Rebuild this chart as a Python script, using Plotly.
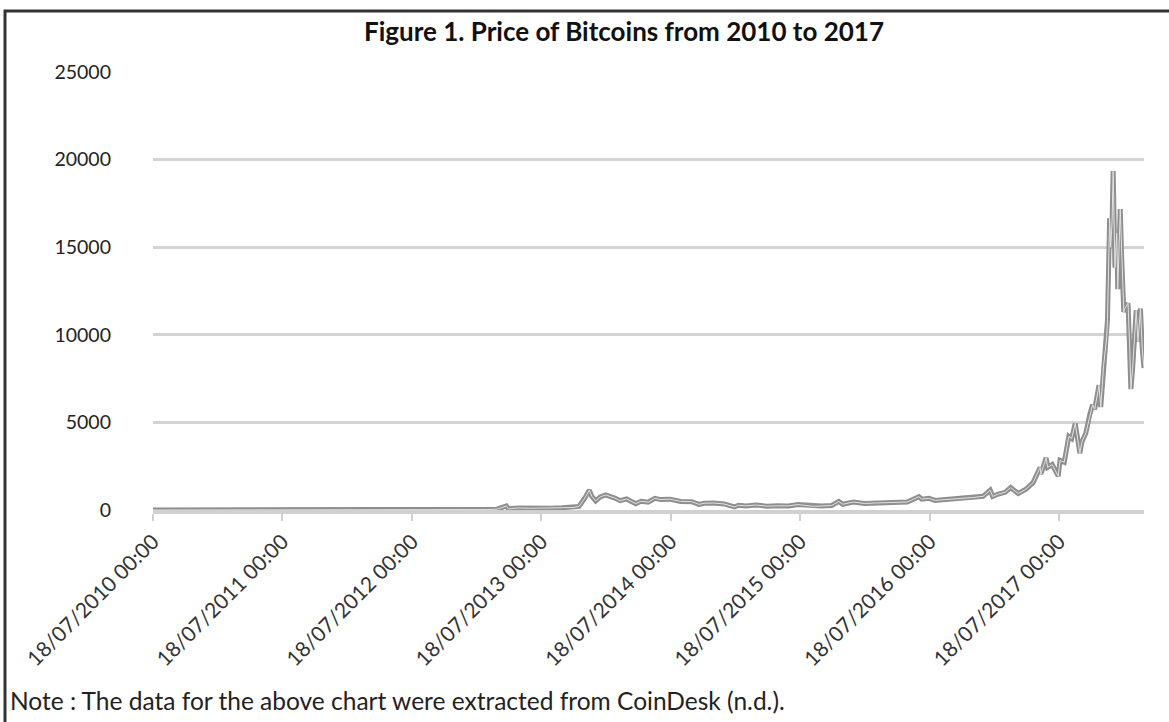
import plotly.graph_objects as go

dates = [
    "2010-07-18", "2010-08-15", "2010-09-15", "2010-10-15", "2010-11-15", "2010-12-15",
    "2011-01-15", "2011-02-15", "2011-03-15", "2011-04-15", "2011-05-15", "2011-06-08",
    "2011-06-20", "2011-07-15", "2011-08-15", "2011-09-15", "2011-10-15", "2011-11-15",
    "2011-12-15", "2012-01-15", "2012-02-15", "2012-03-15", "2012-04-15", "2012-05-15",
    "2012-06-15", "2012-07-15", "2012-08-15", "2012-09-15", "2012-10-15", "2012-11-15",
    "2012-12-15", "2013-01-15", "2013-02-15", "2013-03-15", "2013-04-10", "2013-04-16",
    "2013-05-15", "2013-06-15", "2013-07-15", "2013-08-15", "2013-09-15", "2013-10-15",
    "2013-11-01", "2013-11-18", "2013-11-30", "2013-12-07", "2013-12-18", "2013-12-31",
    "2014-01-15", "2014-02-10", "2014-02-25", "2014-03-15", "2014-04-10", "2014-04-25",
    "2014-05-15", "2014-06-03", "2014-06-20", "2014-07-15", "2014-08-15", "2014-09-15",
    "2014-10-05", "2014-10-20", "2014-11-15", "2014-12-15", "2015-01-14", "2015-01-25",
    "2015-02-15", "2015-03-15", "2015-04-15", "2015-05-15", "2015-06-15", "2015-07-12",
    "2015-08-15", "2015-08-24", "2015-09-15", "2015-10-15", "2015-11-04", "2015-11-15",
    "2015-12-15", "2016-01-15", "2016-02-15", "2016-03-15", "2016-04-15", "2016-05-15",
    "2016-06-17", "2016-06-25", "2016-07-15", "2016-08-02", "2016-08-15", "2016-09-15",
    "2016-10-15", "2016-11-15", "2016-12-15", "2017-01-04", "2017-01-11", "2017-01-25",
    "2017-02-15", "2017-03-03", "2017-03-24", "2017-04-15", "2017-05-05", "2017-05-25",
    "2017-05-27", "2017-06-11", "2017-06-15", "2017-06-28", "2017-07-15", "2017-07-20",
    "2017-08-01", "2017-08-14", "2017-08-22", "2017-09-01", "2017-09-14", "2017-09-20",
    "2017-10-01", "2017-10-12", "2017-10-20", "2017-10-26", "2017-11-07", "2017-11-12",
    "2017-11-20", "2017-11-26", "2017-11-29", "2017-12-01", "2017-12-07", "2017-12-10",
    "2017-12-14", "2017-12-17", "2017-12-22", "2017-12-27", "2017-12-30", "2018-01-06",
    "2018-01-10", "2018-01-16", "2018-01-19", "2018-01-28", "2018-02-02", "2018-02-05",
    "2018-02-10", "2018-02-20", "2018-02-25", "2018-03-04", "2018-03-09", "2018-03-14",
]

prices = [
    0.09, 0.07, 0.06, 0.10, 0.27, 0.24,
    0.39, 1.0, 0.86, 1.2, 7, 29.6,
    17, 14, 11, 5, 4, 2.5,
    3.2, 6.8, 4.4, 5.3, 4.9, 5.1,
    6.5, 7.6, 11.6, 11.8, 11.8, 11.2,
    13.4, 14.3, 27, 47, 230, 68,
    115, 100, 98, 98, 127, 142,
    205, 700, 1130, 780, 520, 750,
    860, 680, 530, 630, 360, 500,
    445, 665, 595, 620, 490, 475,
    320, 385, 400, 345, 175, 270,
    235, 285, 220, 237, 235, 310,
    260, 210, 230, 255, 490, 330,
    455, 375, 400, 415, 430, 455,
    760, 620, 665, 545, 570, 610,
    640, 710, 780, 1130, 770, 895,
    1010, 1280, 940, 1185, 1560, 2430,
    2050, 2975, 2430, 2590, 1930, 2830,
    2730, 4200, 4080, 4950, 3240, 3900,
    4400, 5450, 6010, 5750, 7120, 5870,
    8250, 9330, 9880, 10860, 16650, 15000,
    16500, 19340, 13830, 15800, 12600, 17170,
    14400, 11300, 11500, 11800, 9100, 6900,
    8100, 11400, 9600, 11500, 9200, 8100,
]

tick_dates = ["2010-07-18", "2011-07-18", "2012-07-18", "2013-07-18",
              "2014-07-18", "2015-07-18", "2016-07-18", "2017-07-18"]
tick_labels = ["18/07/2010 00:00", "18/07/2011 00:00", "18/07/2012 00:00", "18/07/2013 00:00",
               "18/07/2014 00:00", "18/07/2015 00:00", "18/07/2016 00:00", "18/07/2017 00:00"]
y_ticks = [0, 5000, 10000, 15000, 20000, 25000]

title_text = "Figure 1. Price of Bitcoins from 2010 to 2017"
note_text = "Note : The data for the above chart were extracted from CoinDesk (n.d.)."

FONT = "Lato"
W, H = 1169, 722
L, R, T, B = 153, 25, 72, 212

fig = go.Figure()
fig.add_trace(go.Scatter(x=dates, y=prices, mode="lines",
                         line=dict(color="#8e8e8e", width=5), hoverinfo="skip"))
fig.add_trace(go.Scatter(x=dates, y=prices, mode="lines",
                         line=dict(color="#ffffff", width=1), opacity=0.75, hoverinfo="skip"))

pw = W - L - R
ph = H - T - B
def px_x(p):
    return (p - L) / pw
def px_y(p):
    return (H - B - p) / ph

fig.update_layout(
    width=W, height=H,
    margin=dict(l=L, r=R, t=T, b=B),
    paper_bgcolor="white", plot_bgcolor="white",
    showlegend=False,
    font=dict(family=FONT, color="#222222"),
    xaxis=dict(
        type="date",
        range=[dates[0], dates[-1]],
        tickmode="array", tickvals=tick_dates, ticktext=tick_labels,
        tickangle=-45,
        tickfont=dict(size=21, color="#333333", family=FONT),
        showgrid=False, zeroline=False,
        showline=True, linecolor="#d0d0d0", linewidth=4,
        ticks="outside", ticklen=7, tickwidth=2, tickcolor="#d0d0d0",
    ),
    yaxis=dict(
        range=[0, 25000],
        tickmode="array", tickvals=y_ticks, ticktext=[str(v) for v in y_ticks],
        tickfont=dict(size=19.5, color="#222222", family=FONT),
        showgrid=True, gridcolor="#d4d4d4", gridwidth=2.5,
        zeroline=False, showline=False, ticks="",
        ticklabelstandoff=41,
    ),
    shapes=[dict(type="rect", xref="paper", yref="paper",
                 x0=px_x(5), x1=px_x(W + 20), y0=px_y(H + 20), y1=px_y(11),
                 line=dict(color="#333333", width=3), fillcolor="rgba(0,0,0,0)",
                 layer="above")],
    annotations=[
        dict(text="<b>" + title_text + "</b>", xref="paper", yref="paper",
             x=px_x(624), y=px_y(31), xanchor="center", yanchor="middle",
             showarrow=False, font=dict(size=26, color="#111111", family=FONT)),
        dict(text=note_text, xref="paper", yref="paper",
             x=px_x(8), y=px_y(700), xanchor="left", yanchor="middle",
             showarrow=False, font=dict(size=24.5, color="#222222", family=FONT)),
    ],
)

fig.write_html("out.html")
